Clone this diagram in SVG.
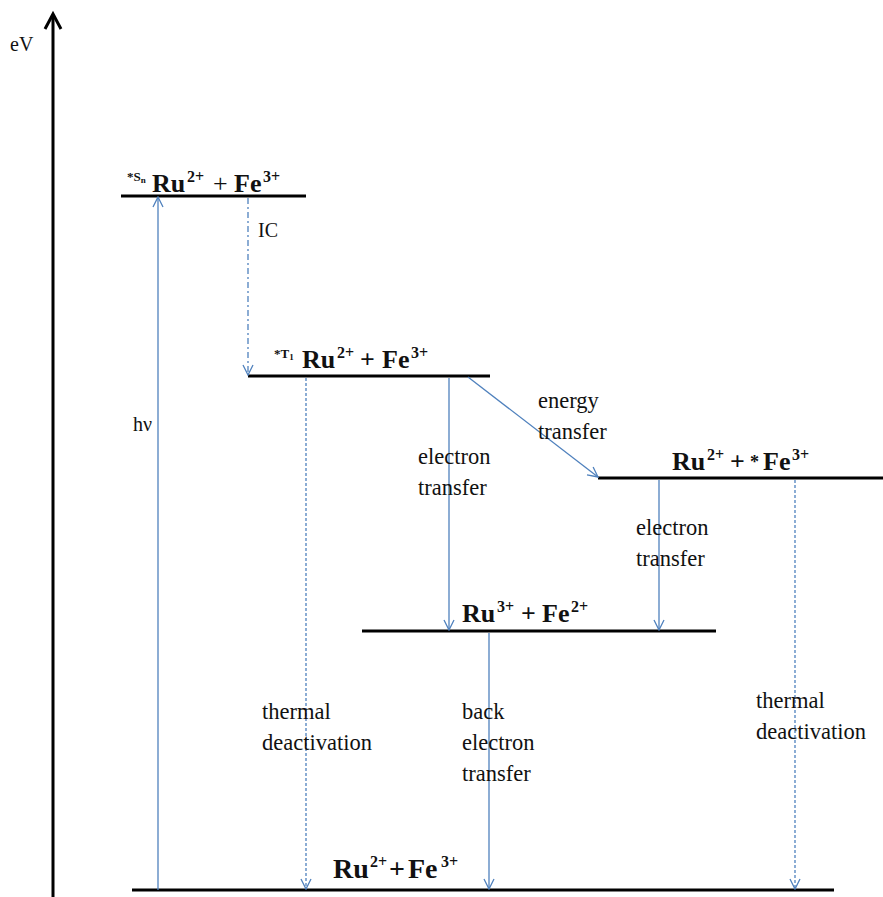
<svg xmlns="http://www.w3.org/2000/svg" width="883" height="897" viewBox="0 0 883 897">
<style>
.lvl{stroke:#000;stroke-width:3;fill:none}
.ax{stroke:#000;stroke-width:3;fill:none}
.ar{stroke:#4f81bd;stroke-width:1.3;fill:none}
.dash{stroke-dasharray:3 2}
.dd{stroke-dasharray:6 3 2 3}
text{font-family:"Liberation Serif","DejaVu Serif","Times New Roman",serif;fill:#111}
.t{font-size:22.5px}
.b{font-size:26px;font-weight:bold}
.s{font-size:16px}
.ss{font-size:13px;font-weight:bold}
</style>
<defs>
<marker id="ah" viewBox="0 0 12 12" refX="11" refY="6" markerWidth="12" markerHeight="12" markerUnits="userSpaceOnUse" orient="auto">
<path d="M1,1 L11,6 L1,11" fill="none" stroke="#4f81bd" stroke-width="1.3"/>
</marker>
</defs>
<g id="axis">
<line class="ax" x1="53" y1="897" x2="53" y2="15"/>
<path class="ax" d="M45,29 L53,14 L61,29"/>
<text class="t" x="10" y="51" style="font-size:20px">eV</text>
</g>
<g id="level-Sn">
<line class="lvl" x1="121" y1="196" x2="306" y2="196"/>
<text class="ss" x="127" y="181">*S<tspan style="font-size:9px" dy="2">n</tspan></text>
<text class="b" y="192"><tspan x="152">Ru</tspan><tspan class="s" x="187" dy="-10">2+</tspan><tspan x="213" dy="10" font-weight="normal">+</tspan><tspan x="234">Fe</tspan><tspan class="s" x="263" dy="-10">3+</tspan></text>
</g>
<g id="level-T1">
<line class="lvl" x1="248" y1="376" x2="490" y2="376"/>
<text class="ss" x="274" y="358">*T<tspan style="font-size:9px" dy="2">1</tspan></text>
<text class="b" y="368"><tspan x="302">Ru</tspan><tspan class="s" x="337" dy="-10">2+</tspan><tspan x="360" dy="10">+</tspan><tspan x="382">Fe</tspan><tspan class="s" x="411" dy="-10">3+</tspan></text>
</g>
<g id="level-Fe-excited">
<line class="lvl" x1="598" y1="478" x2="883" y2="478"/>
<text class="b" y="470"><tspan x="672">Ru</tspan><tspan class="s" x="707" dy="-10">2+</tspan><tspan x="730" dy="10">+</tspan><tspan x="750" style="font-size:18px" dy="-2">*</tspan><tspan x="763" dy="2">Fe</tspan><tspan class="s" x="792" dy="-10">3+</tspan></text>
</g>
<g id="level-Ru3-Fe2">
<line class="lvl" x1="362" y1="631" x2="716" y2="631"/>
<text class="b" y="622"><tspan x="462">Ru</tspan><tspan class="s" x="497" dy="-10">3+</tspan><tspan x="521" dy="10">+</tspan><tspan x="542">Fe</tspan><tspan class="s" x="571" dy="-10">2+</tspan></text>
</g>
<g id="level-ground">
<line class="lvl" x1="132" y1="890" x2="834" y2="890"/>
<text class="b" y="878" style="font-size:28px"><tspan x="333">Ru</tspan><tspan class="s" x="370" dy="-11">2+</tspan><tspan x="389" dy="11">+</tspan><tspan x="408">Fe</tspan><tspan class="s" x="441" dy="-11">3+</tspan></text>
</g>
<g id="connectors">
<line class="ar" x1="158" y1="890" x2="158" y2="197" marker-end="url(#ah)"/>
<line class="ar dd" x1="248" y1="198" x2="248" y2="375" marker-end="url(#ah)"/>
<line class="ar dash" x1="306" y1="378" x2="306" y2="889" marker-end="url(#ah)"/>
<line class="ar" x1="449" y1="378" x2="449" y2="630" marker-end="url(#ah)"/>
<line class="ar" x1="468" y1="377" x2="598" y2="477" marker-end="url(#ah)"/>
<line class="ar" x1="659" y1="480" x2="659" y2="630" marker-end="url(#ah)"/>
<line class="ar dash" x1="795" y1="480" x2="795" y2="889" marker-end="url(#ah)"/>
<line class="ar" stroke-width="2" x1="489" y1="633" x2="489" y2="889" marker-end="url(#ah)"/>
</g>
<g id="labels">
<text class="t" x="133" y="431" style="font-size:20px">hν</text>
<text class="t" x="258" y="237" style="font-size:20px">IC</text>
<text class="t" x="262" y="719">thermal</text>
<text class="t" x="262" y="750">deactivation</text>
<text class="t" x="418" y="464">electron</text>
<text class="t" x="418" y="495">transfer</text>
<text class="t" x="538" y="408">energy</text>
<text class="t" x="538" y="439">transfer</text>
<text class="t" x="636" y="535">electron</text>
<text class="t" x="636" y="566">transfer</text>
<text class="t" x="462" y="719">back</text>
<text class="t" x="462" y="750">electron</text>
<text class="t" x="462" y="781">transfer</text>
<text class="t" x="756" y="708">thermal</text>
<text class="t" x="756" y="739">deactivation</text>
</g>
</svg>
